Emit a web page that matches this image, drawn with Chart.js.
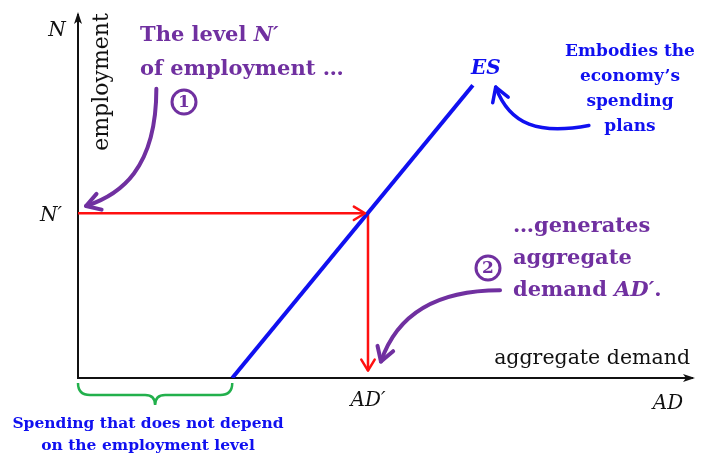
<!DOCTYPE html>
<html lang="en">
<head>
<meta charset="UTF-8">
<title>ES and aggregate demand</title>
<style>
  html, body { margin: 0; padding: 0; background: #fff; }
  #wrap { width: 711px; height: 457px; }
</style>
</head>
<body>
<div id="wrap"><canvas id="myChart"></canvas></div>
<script src="https://cdn.jsdelivr.net/npm/chart.js@4"></script>
<script>
// data (axis units 0..100 on both axes)
const esX = [25, 64];
const esY = [0, 80];
const nPrime = 45;
const adPrime = 47;
const adFloor = 2;

const BLUE = '#1010f0';
const RED = '#ff1010';
const PURPLE = '#7030a0';
const GREEN = '#22b04c';
const SERIF = '"DejaVu Serif", serif';

// curved annotation arrows, in axis units [x, y]
const arrow1 = [[12.7, 79], [12.7, 57], [6.8, 50], [1.3, 47]];
const arrow2 = [[68.4, 24], [57, 24], [51.4, 16], [49.1, 4.5]];
const arrowES = [[82.8, 69], [74.8, 66.5], [70, 69], [67.7, 79.5]];
const brace = [0, 25];

function head(ctx, x, y, ang, len, color, width) {
  ctx.save();
  ctx.strokeStyle = color;
  ctx.lineWidth = width;
  ctx.lineCap = 'round';
  ctx.lineJoin = 'round';
  ctx.beginPath();
  ctx.moveTo(x + len * Math.cos(ang + 2.6), y + len * Math.sin(ang + 2.6));
  ctx.lineTo(x, y);
  ctx.lineTo(x + len * Math.cos(ang - 2.6), y + len * Math.sin(ang - 2.6));
  ctx.stroke();
  ctx.restore();
}

function curved(ctx, sx, sy, pts, color, w) {
  const p = pts.map(q => [sx.getPixelForValue(q[0]), sy.getPixelForValue(q[1])]);
  ctx.save();
  ctx.strokeStyle = color;
  ctx.lineWidth = w;
  ctx.lineCap = 'round';
  ctx.beginPath();
  ctx.moveTo(p[0][0], p[0][1]);
  ctx.bezierCurveTo(p[1][0], p[1][1], p[2][0], p[2][1], p[3][0], p[3][1]);
  ctx.stroke();
  ctx.restore();
  const ang = Math.atan2(p[3][1] - p[2][1], p[3][0] - p[2][0]);
  head(ctx, p[3][0], p[3][1], ang, 16, color, w);
}

function segs(ctx, parts, x, y, align) {
  // parts: [text, font]
  let w = 0;
  parts.forEach(s => { ctx.font = s[1]; w += ctx.measureText(s[0]).width; });
  let cx = align === 'center' ? x - w / 2 : (align === 'right' ? x - w : x);
  ctx.textAlign = 'left';
  parts.forEach(s => { ctx.font = s[1]; ctx.fillText(s[0], cx, y); cx += ctx.measureText(s[0]).width; });
}

function circled(ctx, x, y, num) {
  ctx.save();
  ctx.strokeStyle = PURPLE;
  ctx.fillStyle = PURPLE;
  ctx.lineWidth = 3;
  ctx.beginPath();
  ctx.arc(x, y, 12, 0, Math.PI * 2);
  ctx.stroke();
  ctx.font = 'bold 17px ' + SERIF;
  ctx.textAlign = 'center';
  ctx.textBaseline = 'middle';
  ctx.fillText(num, x, y + 1);
  ctx.restore();
}

const diagram = {
  id: 'diagram',
  beforeDatasetsDraw(chart) {
    const ctx = chart.ctx;
    const a = chart.chartArea;
    ctx.save();
    ctx.strokeStyle = '#111';
    ctx.lineWidth = 2;
    ctx.beginPath();
    ctx.moveTo(a.left, a.top + 2);
    ctx.lineTo(a.left, a.bottom);
    ctx.lineTo(a.right - 2, a.bottom);
    ctx.stroke();
    ctx.fillStyle = '#111';
    ctx.beginPath();
    ctx.moveTo(a.left, a.top);
    ctx.lineTo(a.left - 4, a.top + 12);
    ctx.lineTo(a.left, a.top + 9);
    ctx.lineTo(a.left + 4, a.top + 12);
    ctx.closePath();
    ctx.fill();
    ctx.beginPath();
    ctx.moveTo(a.right, a.bottom);
    ctx.lineTo(a.right - 12, a.bottom - 4);
    ctx.lineTo(a.right - 9, a.bottom);
    ctx.lineTo(a.right - 12, a.bottom + 4);
    ctx.closePath();
    ctx.fill();
    ctx.restore();
  },
  afterDatasetsDraw(chart) {
    const ctx = chart.ctx;
    const sx = chart.scales.x, sy = chart.scales.y;
    const a = chart.chartArea;
    const X = v => sx.getPixelForValue(v), Y = v => sy.getPixelForValue(v);

    // red arrowheads
    head(ctx, X(adPrime) - 3, Y(nPrime), 0, 13, RED, 2.5);
    head(ctx, X(adPrime), Y(adFloor), Math.PI / 2, 13, RED, 2.5);

    curved(ctx, sx, sy, arrow1, PURPLE, 4);
    curved(ctx, sx, sy, arrow2, PURPLE, 4);
    curved(ctx, sx, sy, arrowES, BLUE, 3.5);

    // green brace
    const b0 = X(brace[0]), b1 = X(brace[1]), bm = (b0 + b1) / 2, by = a.bottom + 5;
    ctx.save();
    ctx.strokeStyle = GREEN;
    ctx.lineWidth = 2.5;
    ctx.beginPath();
    ctx.moveTo(b0, by);
    ctx.quadraticCurveTo(b0, by + 12, b0 + 12, by + 12);
    ctx.lineTo(bm - 10, by + 12);
    ctx.quadraticCurveTo(bm, by + 12, bm, by + 22);
    ctx.quadraticCurveTo(bm, by + 12, bm + 10, by + 12);
    ctx.lineTo(b1 - 12, by + 12);
    ctx.quadraticCurveTo(b1, by + 12, b1, by);
    ctx.stroke();
    ctx.restore();

    ctx.save();
    ctx.textBaseline = 'alphabetic';
    // axis labels
    ctx.fillStyle = '#111';
    ctx.font = 'italic 20px ' + SERIF;
    ctx.textAlign = 'center';
    ctx.fillText('N', a.left - 21, a.top + 24);
    ctx.fillText('N\u2032', a.left - 27, Y(nPrime) + 8);
    ctx.fillText('AD\u2032', X(adPrime), a.bottom + 28);
    ctx.fillText('AD', a.right - 27, a.bottom + 31);
    ctx.font = '20.5px ' + SERIF;
    ctx.textAlign = 'right';
    ctx.fillText('aggregate demand', a.right - 5, a.bottom - 14);
    ctx.save();
    ctx.translate(a.left + 30, a.top + 70);
    ctx.rotate(-Math.PI / 2);
    ctx.textAlign = 'center';
    ctx.font = '22px ' + SERIF;
    ctx.fillText('employment', 0, 0);
    ctx.restore();

    // ES label
    ctx.fillStyle = BLUE;
    ctx.font = 'bold italic 20px ' + SERIF;
    ctx.textAlign = 'center';
    ctx.fillText('ES', X(esX[1]) + 13, Y(esY[1]) - 11);

    ctx.font = 'bold 17px ' + SERIF;
    ['Embodies the', 'economy\u2019s', 'spending', 'plans'].forEach((t, i) => {
      ctx.fillText(t, 630, 56 + i * 25);
    });
    ctx.font = 'bold 15.5px ' + SERIF;
    ctx.fillText('Spending that does not depend', 148, 428);
    ctx.fillText('on the employment level', 148, 450);

    // purple notes
    ctx.fillStyle = PURPLE;
    const pb = 'bold 21px ' + SERIF, pi = 'bold italic 21px ' + SERIF;
    segs(ctx, [['The level ', pb], ['N\u2032', pi]], 140, 41, 'left');
    segs(ctx, [['of employment \u2026', pb]], 140, 75, 'left');
    segs(ctx, [['\u2026generates', pb]], 513, 232, 'left');
    segs(ctx, [['aggregate', pb]], 513, 264, 'left');
    segs(ctx, [['demand ', pb], ['AD\u2032', pi], ['.', pb]], 513, 296, 'left');
    ctx.restore();

    circled(ctx, 184, 102, '1');
    circled(ctx, 488, 268, '2');
  }
};

const config = {
  type: 'scatter',
  data: {
    datasets: [
      {
        label: 'ES',
        data: esX.map((x, i) => ({ x: x, y: esY[i] })),
        showLine: true,
        borderColor: BLUE,
        borderWidth: 4,
        pointRadius: 0
      },
      {
        label: 'N prime',
        data: [{ x: 0, y: nPrime }, { x: adPrime - 0.5, y: nPrime }],
        showLine: true,
        borderColor: RED,
        borderWidth: 2.5,
        pointRadius: 0
      },
      {
        label: 'AD prime',
        data: [{ x: adPrime, y: nPrime }, { x: adPrime, y: adFloor }],
        showLine: true,
        borderColor: RED,
        borderWidth: 2.5,
        pointRadius: 0
      }
    ]
  },
  options: {
    responsive: true,
    maintainAspectRatio: false,
    animation: false,
    layout: { padding: { left: 78, right: 16, top: 12, bottom: 79 } },
    plugins: { legend: { display: false }, tooltip: { enabled: false } },
    scales: {
      x: { type: 'linear', min: 0, max: 100, display: false },
      y: { type: 'linear', min: 0, max: 100, display: false }
    }
  },
  plugins: [diagram]
};

const myChart = new Chart(document.getElementById('myChart'), config);
</script>
</body>
</html>
